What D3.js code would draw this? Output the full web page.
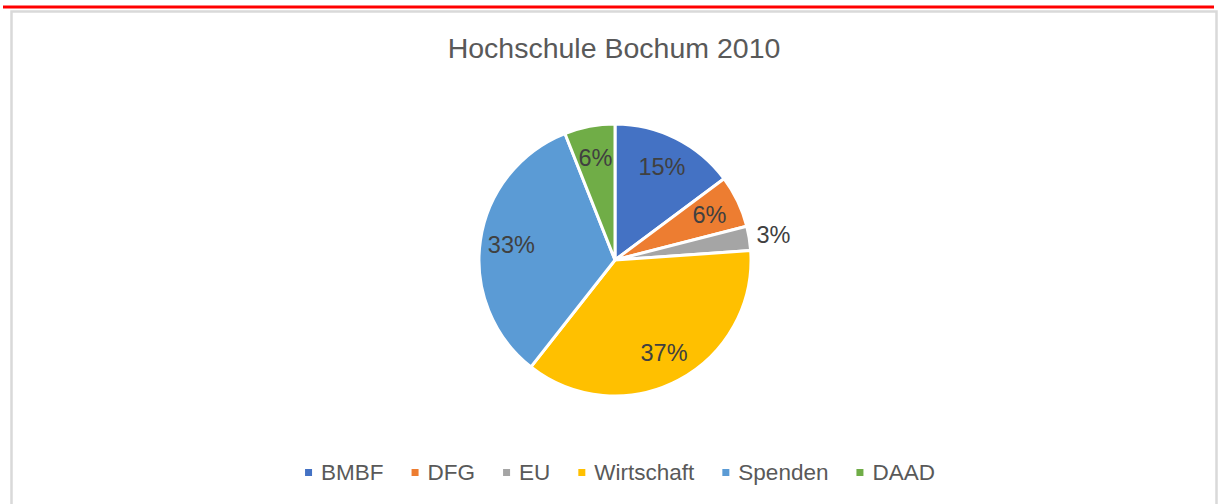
<!DOCTYPE html>
<html>
<head>
<meta charset="utf-8">
<script src="https://cdn.jsdelivr.net/npm/d3@7"></script>
<style>
    html, body { margin: 0; padding: 0; background: #fff; }
    #chart { width: 1219px; height: 504px; }
    text { font-family: "Liberation Sans", Arial, sans-serif; }
</style>
</head>
<body>
<div id="chart"></div>
<script>
// Hochschule Bochum 2010 - Drittmittel nach Geldgeber
const categories = ["BMBF", "DFG", "EU", "Wirtschaft", "Spenden", "DAAD"];
const values = [14.8, 6.2, 2.9, 36.7, 33.4, 6.0];
const colors = ["#4472c4", "#ed7d31", "#a5a5a5", "#ffc000", "#5b9bd5", "#70ad47"];
const title = "Hochschule Bochum 2010";

(() => {
    const W = 1219, H = 504;
    const svg = d3.select("#chart").append("svg").attr("width", W).attr("height", H);

    // red rule on top + grey chart frame
    svg.append("line").attr("x1", 3).attr("x2", 1214).attr("y1", 7).attr("y2", 7)
        .attr("stroke", "#ff0000").attr("stroke-width", 3);
    svg.append("path").attr("d", `M11.5,${H} V11.5 H1216.5 V${H}`)
        .attr("fill", "none").attr("stroke", "#d9d9d9").attr("stroke-width", 2.5);

    svg.append("text").attr("x", 614).attr("y", 58).attr("text-anchor", "middle")
        .attr("font-size", 28.5).attr("fill", "#595959").text(title);

    const data = categories.map((c, i) => ({ name: c, value: values[i], color: colors[i] }));
    const total = d3.sum(values);
    const pct = d3.format(".0%");

    const cx = 615, cy = 260, r = 136;
    const g = svg.append("g").attr("transform", `translate(${cx},${cy})`);

    const pie = d3.pie().value(d => d.value).sort(null);
    const arc = d3.arc().innerRadius(0).outerRadius(r);
    const labelArc = d3.arc().innerRadius(r * 0.77).outerRadius(r * 0.77);
    const outArc = d3.arc().innerRadius(r * 1.18).outerRadius(r * 1.18);
    const arcs = pie(data);

    g.selectAll("path").data(arcs).join("path")
        .attr("d", arc)
        .attr("fill", d => d.data.color)
        .attr("stroke", "#fff").attr("stroke-width", 3).attr("stroke-linejoin", "round");

    g.selectAll("text.lbl").data(arcs).join("text")
        .attr("class", "lbl")
        .attr("transform", d => {
            const small = d.endAngle - d.startAngle < 0.25;
            const [x, y] = (small ? outArc : labelArc).centroid(d);
            return `translate(${x},${y})`;
        })
        .attr("text-anchor", "middle").attr("dy", "0.36em")
        .attr("font-size", 23.5).attr("fill", "#404040")
        .text(d => pct(d.data.value / total));

    // legend
    const legend = svg.append("g").attr("transform", "translate(0,480)");
    const items = legend.selectAll("g").data(data).join("g");
    items.append("rect").attr("y", -11).attr("width", 7).attr("height", 7).attr("fill", d => d.color);
    items.append("text").attr("x", 16).attr("font-size", 22.5).attr("fill", "#595959").text(d => d.name);

    let x = 0;
    const offs = [];
    items.each(function () {
        offs.push(x);
        x += 16 + this.querySelector("text").getComputedTextLength() + 28;
    });
    const totalW = x - 28;
    const x0 = 620 - totalW / 2;
    items.attr("transform", (d, i) => `translate(${x0 + offs[i]},0)`);
})();
</script>
</body>
</html>
